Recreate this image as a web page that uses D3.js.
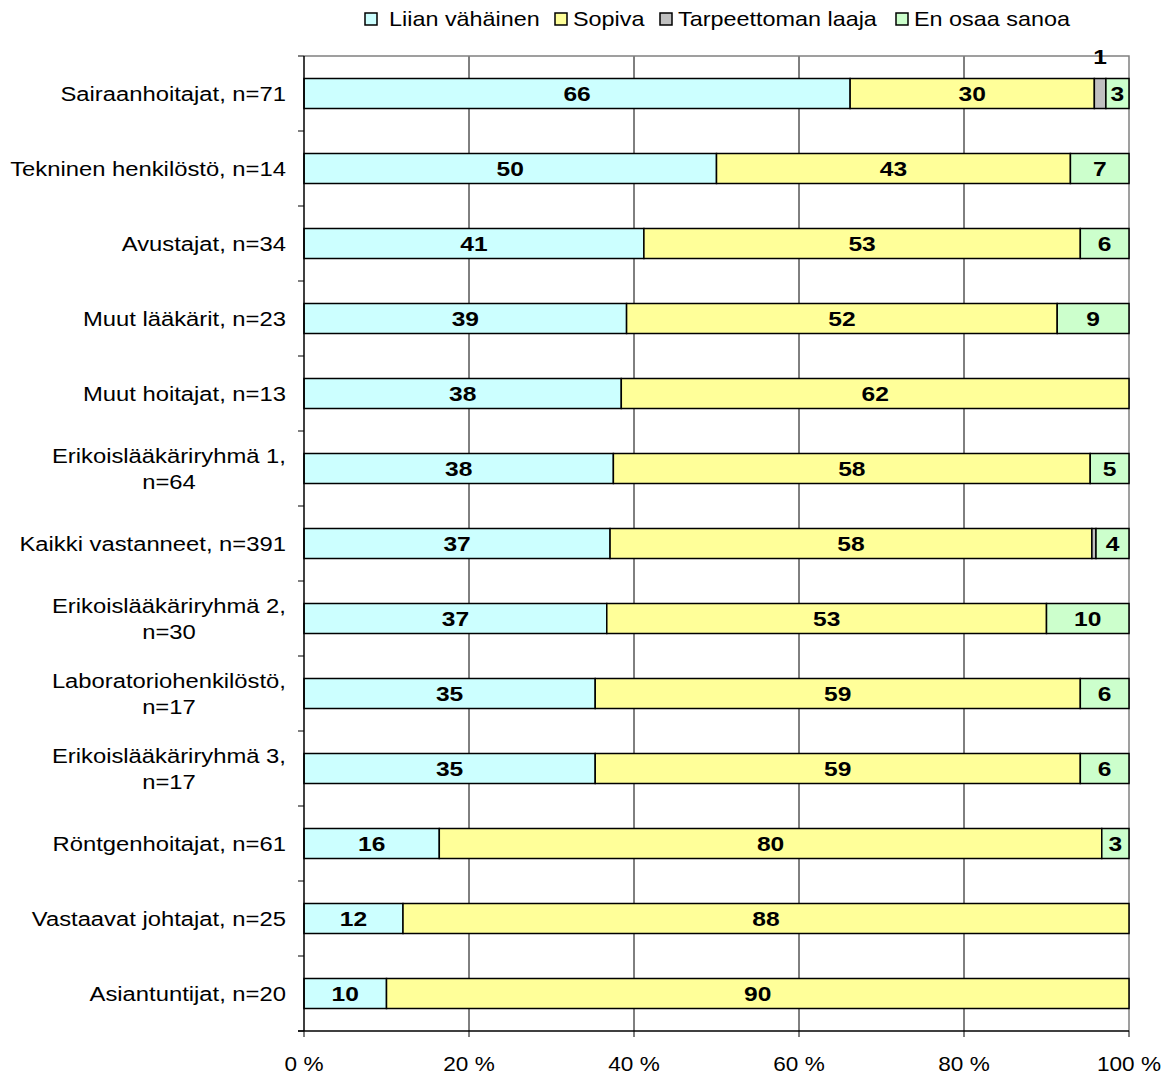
<!DOCTYPE html>
<html><head><meta charset="utf-8">
<script src="https://cdn.jsdelivr.net/npm/d3@7"></script>
<style>body{margin:0;background:#fff}svg{display:block;font-family:"Liberation Sans",Arial,sans-serif}</style>
</head><body><svg id="c" width="1167" height="1075"></svg>
<script>
const categories = ["Sairaanhoitajat, n=71","Tekninen henkilöstö, n=14","Avustajat, n=34","Muut lääkärit, n=23","Muut hoitajat, n=13","Erikoislääkäriryhmä 1,\nn=64","Kaikki vastanneet, n=391","Erikoislääkäriryhmä 2,\nn=30","Laboratoriohenkilöstö,\nn=17","Erikoislääkäriryhmä 3,\nn=17","Röntgenhoitajat, n=61","Vastaavat johtajat, n=25","Asiantuntijat, n=20"];
const seriesNames = ["Liian vähäinen","Sopiva","Tarpeettoman laaja","En osaa sanoa"];
const liian = [66.2,50.0,41.2,39.1,38.46,37.5,37.1,36.7,35.3,35.3,16.4,12,10];
const sopiva = [29.6,42.9,52.9,52.2,61.54,57.8,58.4,53.3,58.8,58.8,80.3,88,90];
const tarpeet = [1.4,0,0,0,0,0,0.5,0,0,0,0,0,0];
const enOsaa = [2.8,7.1,5.9,8.7,0,4.7,4.0,10,5.9,5.9,3.3,0,0];
const colors = ["#CCFFFF","#FFFF99","#C0C0C0","#CCFFCC"];
const xTicks = [0,20,40,60,80,100];

const SX = 1.19;
const svg = d3.select("#c");
const L = 304, R = 1129, T = 56, B = 1031;
const x = d3.scaleLinear().domain([0,100]).range([L,R]);
const y = d3.scaleBand().domain(categories).range([T,B]).paddingInner(0.6).paddingOuter(0.3);

function txt(parent, tx, ty, s, opts){
  opts = opts||{};
  return parent.append("text")
    .attr("transform",`translate(${tx},${ty}) scale(${opts.sx||SX},1)`)
    .attr("dy","0.35em")
    .attr("text-anchor",opts.anchor||"start")
    .attr("font-size",opts.size||20)
    .attr("font-weight",opts.bold?"bold":null)
    .text(s);
}

const rows = categories.map((c,i)=>({cat:c, vals:[liian[i],sopiva[i],tarpeet[i],enOsaa[i]]}));
const stack = d3.stack().keys([0,1,2,3]).value((d,k)=>d.vals[k]);
const series = stack(rows);

// gridlines
svg.append("g").selectAll("line").data(xTicks.filter(t=>t>0&&t<100)).join("line")
  .attr("x1",d=>x(d)).attr("x2",d=>x(d)).attr("y1",T).attr("y2",B)
  .attr("stroke","#000").attr("stroke-width",1);
// plot border top/right
svg.append("path").attr("d",`M${L},${T}H${R}V${B}`).attr("fill","none").attr("stroke","#808080").attr("stroke-width",1.5);

// bars
const g = svg.append("g");
series.forEach((s,k)=>{
  g.selectAll(null).data(s.filter(d=>d[1]-d[0]>0)).join("rect")
    .attr("x",d=>x(d[0])).attr("width",d=>x(d[1])-x(d[0]))
    .attr("y",d=>y(d.data.cat)).attr("height",y.bandwidth())
    .attr("fill",colors[k]).attr("stroke","#000").attr("stroke-width",1.5);
});
// value labels
const fmt = d3.format(".0f");
series.forEach((s,k)=>{
  s.forEach(d=>{
    const v = d[1]-d[0];
    if (v < 1) return;
    const cy = y(d.data.cat)+y.bandwidth()/2;
    txt(svg, x((d[0]+d[1])/2), k===2 ? cy-37 : cy, fmt(v), {anchor:"middle", bold:true, size:21, sx:1.17});
  });
});

// axes
svg.append("line").attr("x1",L).attr("x2",L).attr("y1",T).attr("y2",B).attr("stroke","#000").attr("stroke-width",1.5);
svg.append("line").attr("x1",L-6).attr("x2",R).attr("y1",B).attr("y2",B).attr("stroke","#000").attr("stroke-width",1.5);
const bounds = d3.range(categories.length+1).map(i=>T+i*y.step());
svg.append("g").selectAll("line").data(bounds).join("line")
  .attr("x1",L-6).attr("x2",L).attr("y1",d=>d).attr("y2",d=>d).attr("stroke","#000").attr("stroke-width",1);
svg.append("g").selectAll("line").data(xTicks).join("line")
  .attr("x1",d=>x(d)).attr("x2",d=>x(d)).attr("y1",B).attr("y2",B+6).attr("stroke","#000").attr("stroke-width",1);
xTicks.forEach(d=>txt(svg, x(d), B+33, d+" %", {anchor:"middle", sx:1.13}));

// category labels
categories.forEach(c=>{
  const lines = c.split("\n");
  const cy = y(c)+y.bandwidth()/2;
  const grp = svg.append("g");
  const texts = lines.map((ln,i)=>grp.append("text").attr("font-size",20).attr("dy","0.35em")
    .attr("text-anchor","middle").text(ln));
  const w = d3.max(texts,t=>t.node().getComputedTextLength())*SX;
  const cx = 286 - w/2;
  texts.forEach((t,i)=>t.attr("transform",`translate(${cx},${cy+(i-(lines.length-1)/2)*26}) scale(${SX},1)`));
});

// legend
const legX = [365,555,660,896];
seriesNames.forEach((n,k)=>{
  svg.append("rect").attr("x",legX[k]).attr("y",13).attr("width",12).attr("height",12)
    .attr("fill",colors[k]).attr("stroke","#000").attr("stroke-width",1.5);
  txt(svg, legX[k]+(k===0?24:18), 19, n, {sx:1.17});
});
</script></body></html>
